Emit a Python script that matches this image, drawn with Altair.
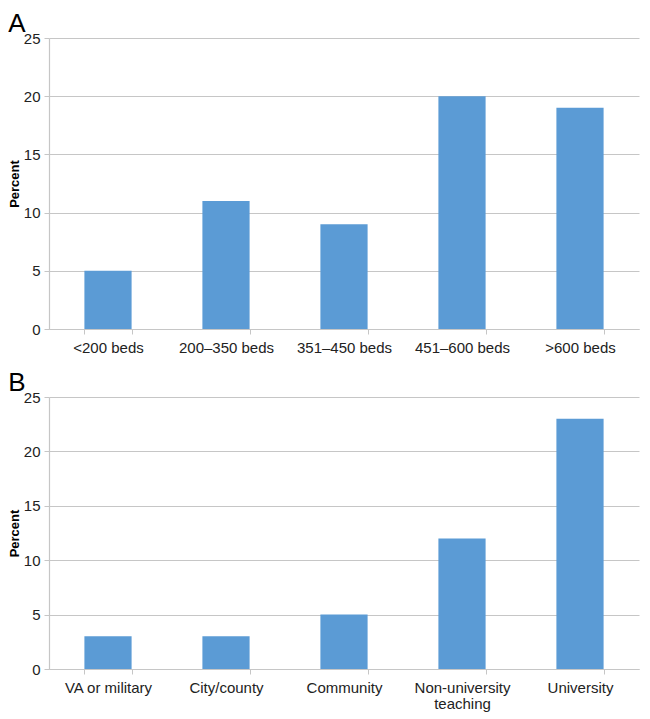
import altair as alt
import pandas as pd

cats_a = ["<200 beds", "200–350 beds", "351–450 beds", "451–600 beds", ">600 beds"]
vals_a = [5, 11, 9, 20, 19]
cats_b = ["VA or military", "City/county", "Community", "Non-university teaching", "University"]
vals_b = [3, 3, 5, 12, 23]

BAR = "#5B9BD5"
GRID = "#C6C6C6"
FONT = "Liberation Sans"


def panel(cats, vals, letter, h, off):
    df = pd.DataFrame({"cat": cats, "val": vals})
    return alt.Chart(df, title=alt.Title(letter, anchor="start", frame="bounds",
                                         fontSize=26, fontWeight="normal",
                                         font=FONT, color="#000000", offset=off)).mark_bar(color=BAR).encode(
        x=alt.X("cat:N", sort=cats, title=None,
                scale=alt.Scale(paddingInner=0.6, paddingOuter=0.3),
                axis=alt.Axis(labelAngle=0, tickBand="extent", tickSize=5,
                              labelPadding=6, domainColor=GRID, tickColor=GRID,
                              labelExpr="datum.label == 'Non-university teaching' ? ['Non-university', 'teaching'] : datum.label",
                              labelLineHeight=16)),
        y=alt.Y("val:Q", title="Percent",
                scale=alt.Scale(domain=[0, 25]),
                axis=alt.Axis(values=[0, 5, 10, 15, 20, 25], tickSize=5, labelPadding=4,
                              domainColor=GRID, tickColor=GRID, gridColor=GRID,
                              titleFontWeight="bold", titleFontSize=13, titlePadding=2)),
    ).properties(width=590, height=h)


a = panel(cats_a, vals_a, "A", 291, -6)
b = panel(cats_b, vals_b, "B", 272, -6)

chart = alt.vconcat(a, b, spacing=15).properties(padding={"left": 0, "top": 3, "right": 2, "bottom": 4}).configure_view(
    stroke=None
).configure_axis(
    labelFont=FONT, titleFont=FONT, labelFontSize=15, labelColor="#222222",
    titleColor="#000000", grid=True, domainWidth=1.2
).configure_axisX(grid=False)

chart.save("out.html", embed_options={"renderer": "svg", "actions": False})
